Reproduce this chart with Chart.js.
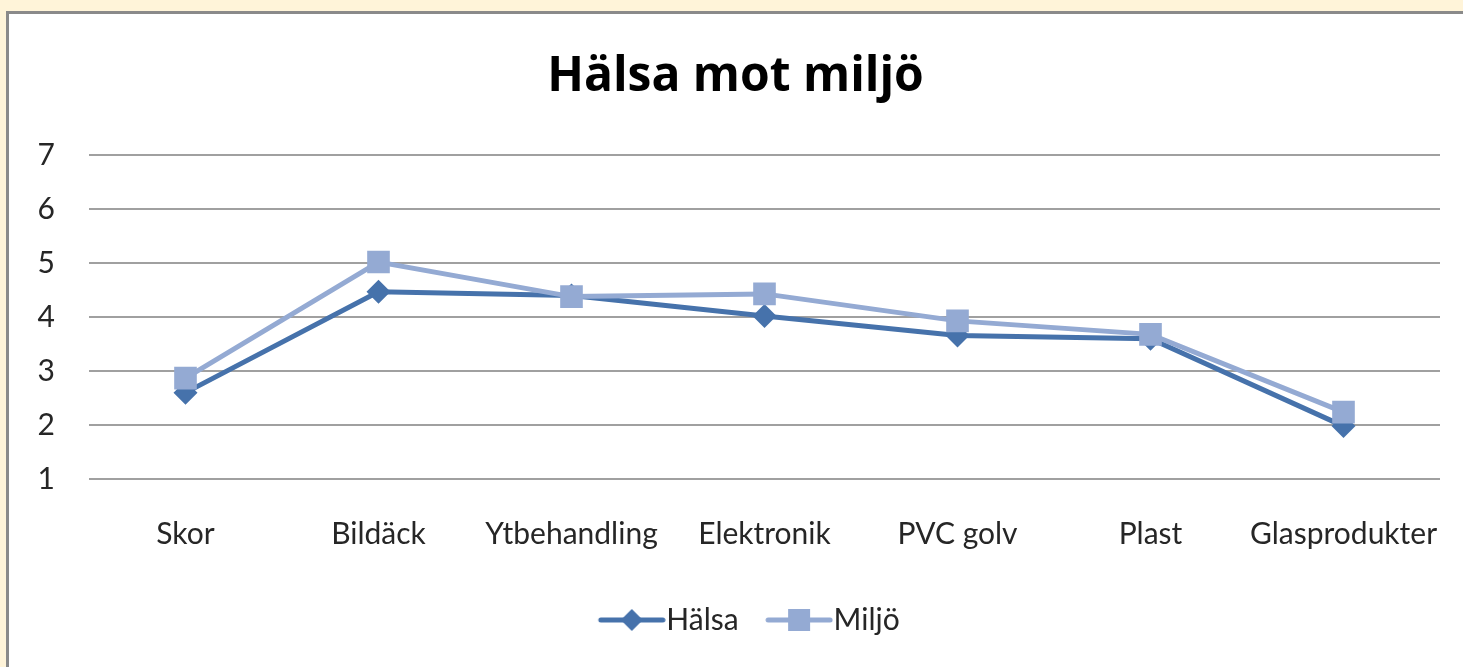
<!DOCTYPE html>
<html>
<head>
<meta charset="utf-8">
<script src="https://cdn.jsdelivr.net/npm/chart.js@4"></script>
<style>
  html, body { margin: 0; padding: 0; background: #fff4d9; overflow: hidden; }
  #box {
    position: absolute; left: 6px; top: 11px;
    width: 1500px; height: 700px;
    border-left: 3px solid #8a8a8a; border-top: 3px solid #8a8a8a;
    background: #fff;
  }
  #chart { display: block; }
</style>
</head>
<body>
<div id="box"><canvas id="chart" width="1454" height="653"></canvas></div>
<script>
const categories = ["Skor", "Bildäck", "Ytbehandling", "Elektronik", "PVC golv", "Plast", "Glasprodukter"];
const halsa = [2.6, 4.47, 4.4, 4.02, 3.66, 3.6, 1.98];
const miljo = [2.87, 5.02, 4.38, 4.43, 3.93, 3.68, 2.24];
const yTicks = [1, 2, 3, 4, 5, 6, 7];

const FONT = "Lato, 'Open Sans', sans-serif";
const TITLE_FONT = "'Open Sans', Lato, sans-serif";
const dark = "#4672ab";
const light = "#94aad3";

// legend marker: a line with the point shape on it, drawn in the right part of the image
// so that it ends just before the label text
function legendIcon(color, shape) {
  const c = document.createElement("canvas");
  c.width = 109;
  c.height = 26;
  const g = c.getContext("2d");
  g.strokeStyle = color;
  g.lineWidth = 5;
  g.lineCap = "round";
  g.beginPath();
  g.moveTo(44, 13);
  g.lineTo(106, 13);
  g.stroke();
  g.fillStyle = color;
  g.beginPath();
  const cx = 75;
  if (shape === "diamond") {
    g.moveTo(cx, 2);
    g.lineTo(cx + 11, 13);
    g.lineTo(cx, 24);
    g.lineTo(cx - 11, 13);
  } else {
    g.rect(cx - 11, 2, 22, 22);
  }
  g.closePath();
  g.fill();
  return c;
}

const ctx = document.getElementById("chart").getContext("2d");

new Chart(ctx, {
  type: "line",
  data: {
    labels: categories,
    datasets: [
      {
        label: "Hälsa",
        data: halsa,
        borderColor: dark,
        backgroundColor: dark,
        borderWidth: 5,
        pointStyle: "rectRot",
        pointRadius: 12,
        pointBorderWidth: 0,
        tension: 0,
        order: 2,
      },
      {
        label: "Miljö",
        data: miljo,
        borderColor: light,
        backgroundColor: light,
        borderWidth: 5,
        pointStyle: "rect",
        pointRadius: 16,
        pointBorderWidth: 0,
        tension: 0,
        order: 1,
      },
    ],
  },
  options: {
    responsive: false,
    animation: false,
    layout: {
      padding: { left: 22, right: 23, top: 0, bottom: 22 },
    },
    plugins: {
      tooltip: { enabled: false },
      title: {
        display: true,
        text: "Hälsa mot miljö",
        color: "#000",
        font: { family: TITLE_FONT, size: 48, weight: "bold" },
        padding: { top: 35, bottom: 48.6 },
      },
      legend: {
        position: "bottom",
        labels: {
          usePointStyle: true,
          pointStyleWidth: 80,
          color: "#262626",
          font: { family: FONT, size: 30 },
          padding: 0,
          generateLabels(chart) {
            return [
              { text: "Hälsa", pointStyle: legendIcon(dark, "diamond"), datasetIndex: 0, fontColor: "#262626" },
              { text: "Miljö", pointStyle: legendIcon(light, "square"), datasetIndex: 1, fontColor: "#262626" },
            ];
          },
        },
      },
    },
    scales: {
      x: {
        offset: true,
        afterFit(scale) {
          scale.height = 126;
          scale.paddingLeft = 0;
          scale.paddingRight = 0;
        },
        grid: { display: false },
        border: { display: false },
        ticks: {
          color: "#262626",
          font: { family: FONT, size: 30 },
          padding: 29,
          maxRotation: 0,
          autoSkip: false,
        },
      },
      y: {
        min: 1,
        max: 7,
        afterBuildTicks(scale) {
          scale.ticks = yTicks.map((v) => ({ value: v }));
        },
        afterFit(scale) {
          scale.width = 58;
        },
        grid: { color: "#a0a0a0", lineWidth: 2, drawTicks: false },
        border: { display: false },
        ticks: {
          color: "#262626",
          font: { family: FONT, size: 30 },
          padding: 34,
        },
      },
    },
  },
});
</script>
</body>
</html>
